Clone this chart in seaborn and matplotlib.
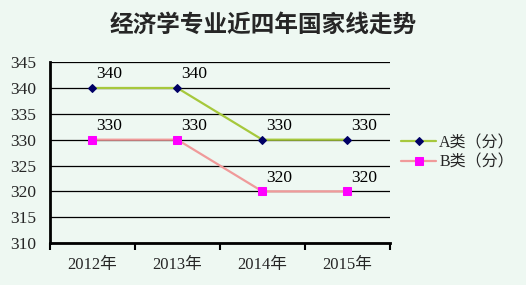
import matplotlib
matplotlib.use("Agg")
import matplotlib.pyplot as plt
import seaborn as sns
import pandas as pd

years = ["2012年", "2013年", "2014年", "2015年"]
series_a = [340, 340, 330, 330]
series_b = [330, 330, 320, 320]
name_a = "A类（分）"
name_b = "B类（分）"
title = "经济学专业近四年国家线走势"
y_ticks = [310, 315, 320, 325, 330, 335, 340, 345]

sns.set_theme(style="white")
plt.rcParams['font.family'] = ['Liberation Serif', 'Noto Sans CJK SC', 'DejaVu Sans']

bg = "#EEF8F2"
fig = plt.figure(figsize=(5.26, 2.85), dpi=100, facecolor=bg)
ax = fig.add_axes([0.095, 0.147, 0.646, 0.635])
ax.set_facecolor(bg)

idx = list(range(len(years)))
df_a = pd.DataFrame({"x": idx, "y": series_a})
df_b = pd.DataFrame({"x": idx, "y": series_b})

sns.lineplot(data=df_a, x="x", y="y", ax=ax, color="#A6C83C", lw=1.6,
             marker="D", markersize=4.5, markerfacecolor="#000066",
             markeredgecolor="#000066", label=name_a)
sns.lineplot(data=df_b, x="x", y="y", ax=ax, color="#F09A9A", lw=1.6,
             marker="s", markersize=6, markerfacecolor="#FF00FF",
             markeredgecolor="#FF00FF", label=name_b)

for xs, ys in ((idx, series_a), (idx, series_b)):
    for x, y in zip(xs, ys):
        ax.annotate(str(y), (x, y), xytext=(3, 4), textcoords="offset points",
                    ha="left", va="bottom", fontsize=12.5, color="black")

ax.set_xlim(-0.5, len(years) - 0.5)
ax.set_ylim(310, 345)
ax.set_yticks(y_ticks)
ax.set_yticklabels([str(t) for t in y_ticks], fontsize=12.5)
ax.yaxis.grid(True, color="black", lw=0.9)
ax.set_axisbelow(True)
ax.set_xticks(idx)
ax.set_xticklabels(years, fontsize=12)
ax.tick_params(axis="x", length=0, pad=10)
ax.tick_params(axis="y", length=0, pad=10)
ax.set_xticks([i - 0.5 for i in range(len(years) + 1)], minor=True)
ax.tick_params(axis="x", which="minor", length=5, width=1.5, color="black",
               direction="out", bottom=True)

for s in ["top", "right"]:
    ax.spines[s].set_visible(False)
for s in ["left", "bottom"]:
    ax.spines[s].set_color("black")
    ax.spines[s].set_linewidth(2)
ax.set_xlabel("")
ax.set_ylabel("")

leg = ax.legend(loc="center left", bbox_to_anchor=(1.0, 0.5), frameon=False,
                fontsize=11.5, handlelength=2.2, handletextpad=0.2,
                labelspacing=0.2, borderaxespad=0.3)

fig.text(0.5, 0.915, title, ha="center", va="center", fontsize=17,
         fontweight="bold", family=['Noto Sans CJK SC', 'DejaVu Sans'])

fig.savefig("out.png", dpi=100, facecolor=bg)
